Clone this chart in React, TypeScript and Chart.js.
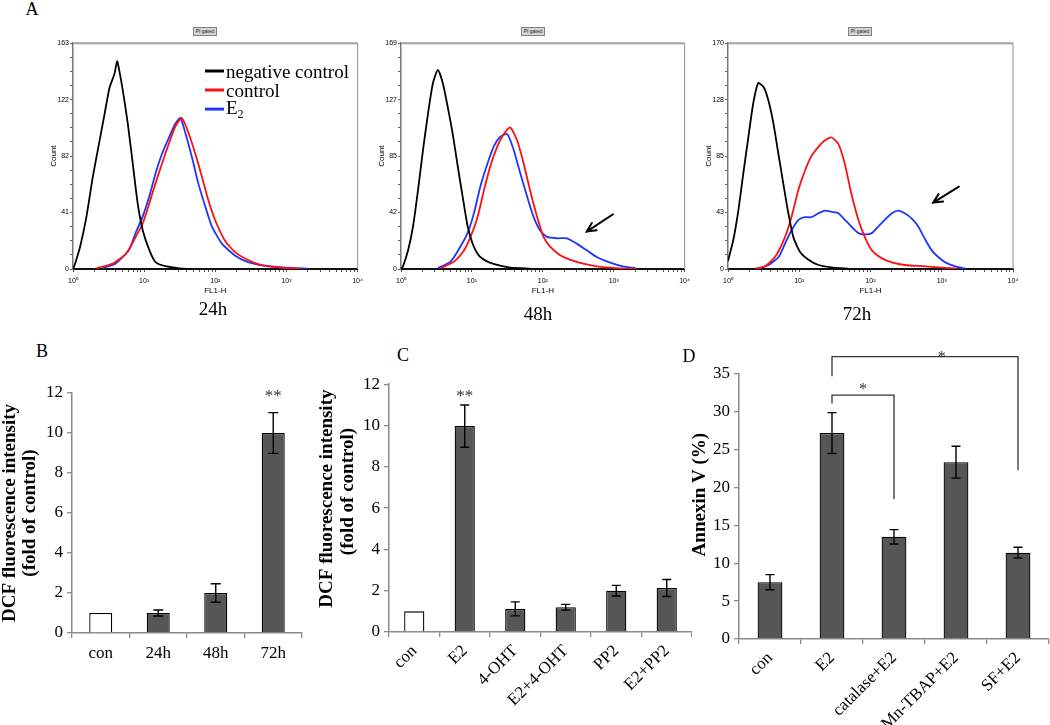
import React, { useEffect, useRef } from 'react';
import { Chart, registerables } from 'chart.js';

Chart.register(...registerables);

const SERIF = '"Liberation Serif", "Times New Roman", Times, serif';
const SANS = '"Liberation Sans", Arial, Helvetica, sans-serif';
const NB = '\u00A0';

// ---------------- Panel A: flow-cytometry histograms ----------------
const fl1TickLabels = ['10⁰', '10¹', '10²', '10³', '10⁴'];
const histTimes = ['24h', '48h', '72h'];
const countMax = [163, 169, 170];
const countTickLabels = [
  ['0', '41', '82', '122', '163'],
  ['0', '42', '85', '127', '169'],
  ['0', '43', '85', '128', '170'],
];
const legendNames = ['negative control', 'control', 'E'];

// FL1-H positions in log decades (0 = 10⁰ … 4 = 10⁴) and the counts
const neg24Dec = [0, 0.03, 0.1, 0.19, 0.28, 0.375, 0.444, 0.514, 0.583, 0.62, 0.644, 0.7, 0.77, 0.84, 0.91, 0.98, 1.07, 1.16, 1.3, 1.49, 1.7];
const neg24Count = [0, 4, 16, 38, 67, 93, 112, 131, 141, 150, 145, 129, 105, 76, 47, 28, 14, 5, 2, 0.5, 0];
const red24Dec = [0.33, 0.56, 0.745, 0.88, 0.98, 1.07, 1.16, 1.25, 1.35, 1.44, 1.53, 1.625, 1.72, 1.81, 1.9, 2.0, 2.13, 2.27, 2.46, 2.64, 2.92, 3.2];
const red24Count = [0.5, 4, 11, 23, 33, 47, 62, 76, 91, 103, 109, 98, 83, 67, 50, 35, 21, 12.5, 6.5, 3, 1, 0.3];
const blue24Dec = [0.42, 0.6, 0.79, 0.88, 0.98, 1.07, 1.16, 1.25, 1.35, 1.44, 1.51, 1.58, 1.67, 1.76, 1.86, 1.95, 2.09, 2.27, 2.46, 2.74, 3.0, 3.3];
const blue24Count = [0.7, 4, 14, 26, 38, 52, 69, 83, 95, 105, 109, 98, 81, 62, 45, 31, 18.5, 10, 5, 2, 1, 0.3];

const neg48Dec = [0, 0.028, 0.1, 0.17, 0.24, 0.31, 0.38, 0.45, 0.52, 0.59, 0.66, 0.73, 0.8, 0.87, 0.94, 1.01, 1.1, 1.22, 1.36, 1.54, 1.82];
const neg48Count = [0, 2, 14, 32, 59, 89, 116, 139, 149, 139, 121, 101, 77, 54, 32, 19, 10, 5.5, 3, 1, 0.2];
const red48Dec = [0.56, 0.75, 0.89, 0.98, 1.08, 1.17, 1.26, 1.36, 1.45, 1.54, 1.64, 1.73, 1.82, 1.92, 2.01, 2.1, 2.24, 2.38, 2.57, 2.76, 3.03, 3.31];
const red48Count = [0.7, 5.5, 14, 24, 39, 59, 77, 92, 101, 106, 96, 79, 59, 39, 24, 17, 10.5, 7, 4, 2, 0.7, 0.2];
const blue48Dec = [0.52, 0.7, 0.84, 0.94, 1.03, 1.12, 1.22, 1.31, 1.4, 1.5, 1.59, 1.68, 1.78, 1.87, 1.96, 2.06, 2.2, 2.34, 2.48, 2.62, 2.76, 2.94, 3.13, 3.31];
const blue48Count = [0.7, 5.5, 17, 27, 42, 62, 79, 92, 99, 101, 89, 72, 54, 39, 29, 24, 23, 23, 19, 14, 9, 5, 2, 0.7];

const neg72Dec = [0, 0.075, 0.145, 0.215, 0.285, 0.355, 0.425, 0.5, 0.566, 0.636, 0.706, 0.777, 0.847, 0.917, 1.01, 1.13, 1.27, 1.45, 1.69];
const neg72Count = [6, 22, 44, 72, 99, 125, 140, 137, 127, 110, 87, 64, 42, 24, 13, 7, 3, 1.3, 0.3];
const red72Dec = [0.38, 0.52, 0.66, 0.8, 0.89, 0.99, 1.08, 1.17, 1.27, 1.36, 1.455, 1.55, 1.64, 1.73, 1.83, 1.92, 2.02, 2.16, 2.3, 2.48, 2.77, 3.05, 3.23];
const red72Count = [0.3, 2, 9, 24, 39, 60, 74, 85, 92, 97, 99, 94, 79, 57, 37, 24, 14, 8, 5, 3, 2, 0.8, 0.3];
const blue72Dec = [0.43, 0.57, 0.71, 0.8, 0.89, 0.99, 1.08, 1.17, 1.27, 1.36, 1.455, 1.55, 1.64, 1.73, 1.83, 1.92, 2.02, 2.11, 2.2, 2.3, 2.39, 2.48, 2.58, 2.67, 2.77, 2.86, 2.95, 3.05, 3.19, 3.33];
const blue72Count = [0.3, 3, 9, 19, 29, 37, 39, 39, 42, 44, 43, 42, 37, 32, 27, 26, 27, 32, 37, 42, 44, 42, 38, 32, 22, 14, 9, 5, 2, 0.3];

// arrows pointing at the E2 high-fluorescence shoulder (decade, count); first panel has none
const arrowTipDec = [NaN, 2.62, 2.88];
const arrowTipCount = [NaN, 28, 50];
const arrowTailDec = [NaN, 2.99, 3.24];
const arrowTailCount = [NaN, 41, 62];

// ---------------- Panel B ----------------
const bCats = ['con', '24h', '48h', '72h'];
const bMeans = [1, 1.0, 2.0, 10.0];
const bErrs = [0, 0.15, 0.46, 1.02];
const bStars = ['', '', '', '**'];
const bStarLevel = 11.6;

// ---------------- Panel C ----------------
const cCats = ['con', 'E2', '4-OHT', 'E2+4-OHT', 'PP2', 'E2+PP2'];
const cMeans = [1, 9.97, 1.12, 1.2, 2.0, 2.13];
const cErrs = [0, 1.02, 0.34, 0.14, 0.26, 0.41];
const cStars = ['', '**', '', '', '', ''];
const cStarLevel = 11.2;

// ---------------- Panel D ----------------
const dCats = ['con', 'E2', 'catalase+E2', 'Mn-TBAP+E2', 'SF+E2'];
const dMeans = [7.5, 27.2, 13.5, 23.35, 11.4];
const dErrs = [1.0, 2.7, 0.95, 2.1, 0.72];
const dBracketFrom = ['E2', 'E2'];
const dBracketTo = ['catalase+E2', 'SF+E2'];
const dBracketTop = [32.2, 37.3];
const dBracketFromEnd = [31.1, 34.7];
const dBracketToEnd = [18.5, 22.3];
const dBracketStarLevel = [32.4, 36.6];
const dBracketStarAt = [0.5, 0.59];

type Box = { x: number; y: number; w: number; h: number };

function pts(dec: number[], cnt: number[]) {
  return dec.map((d, k) => ({ x: Math.pow(10, d), y: cnt[k] }));
}

const framePlugin = {
  id: 'frame',
  afterDraw(chart: any) {
    const { ctx, chartArea } = chart;
    const { left, right, top, bottom } = chartArea;
    ctx.save();
    ctx.strokeStyle = '#a0a0a0';
    ctx.lineWidth = 2;
    ctx.beginPath();
    ctx.moveTo(left, top);
    ctx.lineTo(right, top);
    ctx.stroke();
    ctx.lineWidth = 1.2;
    ctx.beginPath();
    ctx.moveTo(right, top);
    ctx.lineTo(right, bottom);
    ctx.stroke();
    ctx.restore();
  },
};

function arrowPlugin(i: number) {
  return {
    id: 'arrow' + i,
    afterDatasetsDraw(chart: any) {
      if (isNaN(arrowTipDec[i])) return;
      const x = chart.scales.x;
      const y = chart.scales.y;
      const tx = x.getPixelForValue(Math.pow(10, arrowTipDec[i]));
      const ty = y.getPixelForValue(arrowTipCount[i]);
      const sx = x.getPixelForValue(Math.pow(10, arrowTailDec[i]));
      const sy = y.getPixelForValue(arrowTailCount[i]);
      const ang = Math.atan2(ty - sy, tx - sx);
      const L = 10;
      const ctx = chart.ctx;
      ctx.save();
      ctx.strokeStyle = '#000';
      ctx.lineWidth = 2;
      ctx.lineCap = 'round';
      ctx.beginPath();
      ctx.moveTo(sx, sy);
      ctx.lineTo(tx, ty);
      ctx.moveTo(tx - L * Math.cos(ang - 0.45), ty - L * Math.sin(ang - 0.45));
      ctx.lineTo(tx, ty);
      ctx.lineTo(tx - L * Math.cos(ang + 0.45), ty - L * Math.sin(ang + 0.45));
      ctx.stroke();
      ctx.restore();
    },
  };
}

function histConfig(i: number, series: { x: number; y: number }[][], padTop: number, padRight: number) {
  const colors = ['#000000', '#ff1010', '#1f35ff'];
  const max = countMax[i];
  return {
    type: 'line',
    data: {
      datasets: series.map((s, k) => ({
        data: s,
        borderColor: colors[k],
        borderWidth: 1.8,
        pointRadius: 0,
        tension: 0.2,
        fill: false,
      })),
    },
    options: {
      animation: false,
      responsive: false,
      events: [],
      layout: { padding: { top: padTop, right: padRight, left: 0, bottom: 0 } },
      plugins: { legend: { display: false }, tooltip: { enabled: false } },
      scales: {
        x: {
          type: 'logarithmic',
          min: 1,
          max: 10000,
          afterBuildTicks: (s: any) => {
            const t: any[] = [];
            for (let d = 0; d < 4; d++) for (let m = 1; m < 10; m++) t.push({ value: m * Math.pow(10, d) });
            t.push({ value: 10000 });
            s.ticks = t;
          },
          afterFit: (s: any) => {
            s.height = 29;
          },
          ticks: {
            autoSkip: false,
            maxRotation: 0,
            minRotation: 0,
            padding: 5,
            color: '#000',
            font: { family: SANS, size: 7 },
            callback: (v: any) => {
              const e = Math.log10(Number(v));
              return Math.abs(e - Math.round(e)) < 1e-6 ? fl1TickLabels[Math.round(e)] : '';
            },
          },
          grid: { drawOnChartArea: false, drawTicks: true, tickLength: 3, color: '#555' },
          border: { color: '#111', width: 2 },
          title: { display: true, text: 'FL1-H', color: '#000', font: { family: SANS, size: 8, lineHeight: 1.2 }, padding: { top: 0, bottom: 2 } },
        },
        y: {
          min: 0,
          max,
          afterBuildTicks: (s: any) => {
            const t: any[] = [];
            for (let k = 0; k <= 16; k++) t.push({ value: (max * k) / 16 });
            s.ticks = t;
          },
          afterFit: (s: any) => {
            s.width = 33;
          },
          ticks: {
            autoSkip: false,
            padding: 1,
            color: '#000',
            font: { family: SANS, size: 7 },
            callback: (_v: any, idx: number) => (idx % 4 === 0 ? countTickLabels[i][idx / 4] : ''),
          },
          grid: { drawOnChartArea: false, drawTicks: true, tickLength: 3, color: '#666' },
          border: { color: '#777', width: 1.5 },
          title: { display: true, text: 'Count', color: '#000', font: { family: SANS, size: 8, lineHeight: 1.2 }, padding: { top: 9, bottom: 0 } },
        },
      },
    },
    plugins: [framePlugin, arrowPlugin(i)],
  };
}

function errorBars(errs: number[], cap: number) {
  return {
    id: 'errorBars',
    afterDatasetsDraw(chart: any) {
      const meta = chart.getDatasetMeta(0);
      const y = chart.scales.y;
      const vals = chart.data.datasets[0].data;
      const ctx = chart.ctx;
      ctx.save();
      ctx.strokeStyle = '#000';
      ctx.lineWidth = 1.4;
      meta.data.forEach((bar: any, k: number) => {
        const e = errs[k];
        if (!e) return;
        const yt = y.getPixelForValue(vals[k] + e);
        const yb = y.getPixelForValue(vals[k] - e);
        const x = bar.x;
        ctx.beginPath();
        ctx.moveTo(x, yt);
        ctx.lineTo(x, yb);
        ctx.moveTo(x - cap / 2, yt);
        ctx.lineTo(x + cap / 2, yt);
        ctx.moveTo(x - cap / 2, yb);
        ctx.lineTo(x + cap / 2, yb);
        ctx.stroke();
      });
      ctx.restore();
    },
  };
}

function starMarks(marks: string[], level: number) {
  return {
    id: 'stars',
    afterDatasetsDraw(chart: any) {
      const meta = chart.getDatasetMeta(0);
      const y = chart.scales.y;
      const ctx = chart.ctx;
      ctx.save();
      ctx.font = `17px ${SERIF}`;
      ctx.fillStyle = '#333';
      ctx.textAlign = 'center';
      ctx.textBaseline = 'alphabetic';
      marks.forEach((m, k) => {
        if (m) ctx.fillText(m, meta.data[k].x, y.getPixelForValue(level));
      });
      ctx.restore();
    },
  };
}

const bracketPlugin = {
  id: 'brackets',
  afterDatasetsDraw(chart: any) {
    const x = chart.scales.x;
    const y = chart.scales.y;
    const ctx = chart.ctx;
    ctx.save();
    ctx.strokeStyle = '#333';
    ctx.lineWidth = 1.3;
    ctx.fillStyle = '#333';
    ctx.font = `16px ${SERIF}`;
    ctx.textAlign = 'center';
    ctx.textBaseline = 'alphabetic';
    dBracketFrom.forEach((f, k) => {
      const x1 = x.getPixelForValue(dCats.indexOf(f));
      const x2 = x.getPixelForValue(dCats.indexOf(dBracketTo[k]));
      const yt = y.getPixelForValue(dBracketTop[k]);
      ctx.beginPath();
      ctx.moveTo(x1, y.getPixelForValue(dBracketFromEnd[k]));
      ctx.lineTo(x1, yt);
      ctx.lineTo(x2, yt);
      ctx.lineTo(x2, y.getPixelForValue(dBracketToEnd[k]));
      ctx.stroke();
      ctx.fillText('*', x1 + (x2 - x1) * dBracketStarAt[k], y.getPixelForValue(dBracketStarLevel[k]));
    });
    ctx.restore();
  },
};

type BarParams = {
  cats: string[];
  means: number[];
  errs: number[];
  whiteFirst: boolean;
  yMax: number;
  yStep: number;
  yTitle: string | string[];
  titleLH: number;
  titlePad: number;
  rot: number;
  xPad: number;
  yW: number;
  xH: number;
  padTop: number;
  padRight: number;
  cap: number;
  extra: any[];
};

function barConfig(p: BarParams) {
  return {
    type: 'bar',
    data: {
      labels: p.cats,
      datasets: [
        {
          data: p.means,
          backgroundColor: (c: any) => (p.whiteFirst && c.dataIndex === 0 ? '#ffffff' : '#565656'),
          borderColor: '#000',
          borderWidth: 1.3,
          categoryPercentage: 1,
          barPercentage: 0.4,
        },
      ],
    },
    options: {
      animation: false,
      responsive: false,
      events: [],
      layout: { padding: { top: p.padTop, right: p.padRight, left: 0, bottom: 0 } },
      plugins: { legend: { display: false }, tooltip: { enabled: false } },
      scales: {
        x: {
          grid: { offset: true, drawOnChartArea: false, tickLength: 5, color: '#8a8a8a', lineWidth: 1.3 },
          border: { color: '#8a8a8a', width: 1.5 },
          ticks: {
            autoSkip: false,
            maxRotation: p.rot,
            minRotation: p.rot,
            padding: p.xPad,
            color: '#000',
            font: { family: SERIF, size: 17 },
          },
          afterFit: (s: any) => {
            s.height = p.xH;
          },
        },
        y: {
          min: 0,
          max: p.yMax,
          ticks: { stepSize: p.yStep, padding: 4, color: '#000', font: { family: SERIF, size: 17 } },
          grid: { drawOnChartArea: false, tickLength: 5, color: '#8a8a8a', lineWidth: 1.3 },
          border: { color: '#8a8a8a', width: 1.5 },
          title: {
            display: true,
            text: p.yTitle,
            color: '#000',
            font: { family: SERIF, size: 19, weight: 'bold', lineHeight: p.titleLH },
            padding: { top: p.titlePad, bottom: 0 },
          },
          afterFit: (s: any) => {
            s.width = p.yW;
          },
        },
      },
    },
    plugins: [errorBars(p.errs, p.cap), ...p.extra],
  };
}

function ChartBox({ box, build }: { box: Box; build: () => any }) {
  const ref = useRef<HTMLCanvasElement>(null);
  useEffect(() => {
    const chart = new Chart(ref.current as HTMLCanvasElement, build());
    return () => chart.destroy();
  }, []);
  return (
    <canvas
      ref={ref}
      width={box.w}
      height={box.h}
      style={{ position: 'absolute', left: box.x, top: box.y, width: box.w, height: box.h }}
    />
  );
}

function Txt(props: { x: number; y: number; size: number; bold?: boolean; family?: string; children: any }) {
  return (
    <div
      style={{
        position: 'absolute',
        left: props.x,
        top: props.y,
        transform: 'translate(-50%, -50%)',
        fontFamily: props.family || SERIF,
        fontSize: props.size,
        fontWeight: props.bold ? 'bold' : 'normal',
        lineHeight: 1,
        whiteSpace: 'nowrap',
        color: '#000',
      }}
    >
      {props.children}
    </div>
  );
}

function GateTag({ cx }: { cx: number }) {
  return (
    <div
      style={{
        position: 'absolute',
        left: cx - 12,
        top: 27,
        width: 24,
        height: 9,
        boxSizing: 'border-box',
        background: '#d6d6d6',
        border: '1px solid #808080',
        fontFamily: SANS,
        fontSize: 5,
        lineHeight: '7px',
        textAlign: 'center',
        color: '#222',
        whiteSpace: 'nowrap',
        overflow: 'hidden',
      }}
    >
      PI gated
    </div>
  );
}

export default function App() {
  const histBoxes: Box[] = [
    { x: 40, y: 38, w: 328, h: 260 },
    { x: 368, y: 38, w: 327, h: 260 },
    { x: 695, y: 38, w: 330, h: 260 },
  ];
  const histPadRight = [8, 8, 12];
  const histSeries = [
    [pts(neg24Dec, neg24Count), pts(red24Dec, red24Count), pts(blue24Dec, blue24Count)],
    [pts(neg48Dec, neg48Count), pts(red48Dec, red48Count), pts(blue48Dec, blue48Count)],
    [pts(neg72Dec, neg72Count), pts(red72Dec, red72Count), pts(blue72Dec, blue72Count)],
  ];
  const timePos = [
    [213, 308],
    [538, 313],
    [857, 313],
  ];
  const legendColors = ['#000000', '#ff1010', '#1f35ff'];

  const boxB: Box = { x: 0, y: 370, w: 316, h: 330 };
  const boxC: Box = { x: 316, y: 370, w: 376, h: 355 };
  const boxD: Box = { x: 684, y: 340, w: 366, h: 385 };

  return (
    <div style={{ position: 'absolute', left: 0, top: 0, width: 1050, height: 725, background: '#fff', overflow: 'hidden' }}>
      {histBoxes.map((b, i) => (
        <ChartBox key={'h' + i} box={b} build={() => histConfig(i, histSeries[i], 5, histPadRight[i])} />
      ))}
      <ChartBox
        box={boxB}
        build={() =>
          barConfig({
            cats: bCats, means: bMeans, errs: bErrs, whiteFirst: true, yMax: 12, yStep: 2,
            yTitle: ['DCF fluorescence intensity', '(fold of control)'], titleLH: 20 / 19, titlePad: 0,
            rot: 0, xPad: 5, yW: 72, xH: 67, padTop: 23, padRight: 14, cap: 10,
            extra: [starMarks(bStars, bStarLevel)],
          })
        }
      />
      <ChartBox
        box={boxC}
        build={() =>
          barConfig({
            cats: cCats, means: cMeans, errs: cErrs, whiteFirst: true, yMax: 12, yStep: 2,
            yTitle: [NB.repeat(4) + 'DCF fluorescence intensity', NB.repeat(7) + '(fold of control)'], titleLH: 21 / 19, titlePad: 1,
            rot: 45, xPad: 4, yW: 73, xH: 93, padTop: 13, padRight: 0, cap: 9,
            extra: [starMarks(cStars, cStarLevel)],
          })
        }
      />
      <ChartBox
        box={boxD}
        build={() =>
          barConfig({
            cats: dCats, means: dMeans, errs: dErrs, whiteFirst: false, yMax: 35, yStep: 5,
            yTitle: NB.repeat(5) + 'Annexin V (%)', titleLH: 20 / 19, titlePad: 6,
            rot: 45, xPad: 4, yW: 55, xH: 86, padTop: 34, padRight: 1, cap: 9,
            extra: [bracketPlugin],
          })
        }
      />

      {/* panel letters */}
      <Txt x={32} y={9} size={18}>A</Txt>
      <Txt x={42} y={351} size={18}>B</Txt>
      <Txt x={403} y={355} size={18}>C</Txt>
      <Txt x={689} y={356} size={18}>D</Txt>

      {/* time labels under the histograms */}
      {histTimes.map((t, i) => (
        <Txt key={t} x={timePos[i][0]} y={timePos[i][1]} size={19}>
          {t}
        </Txt>
      ))}

      {/* gate tags */}
      <GateTag cx={205} />
      <GateTag cx={533} />
      <GateTag cx={860} />

      {/* legend of the first histogram */}
      {legendNames.map((n, k) => (
        <div
          key={n}
          style={{ position: 'absolute', left: 205, top: 71 + k * 19, transform: 'translateY(-50%)', display: 'flex', alignItems: 'center', whiteSpace: 'nowrap' }}
        >
          <div style={{ width: 19, height: 3, background: legendColors[k], marginRight: 2 }} />
          <span style={{ fontFamily: SERIF, fontSize: 19, lineHeight: 1, color: '#000' }}>
            {n}
            {k === 2 ? <sub style={{ fontSize: 12 }}>2</sub> : null}
          </span>
        </div>
      ))}
    </div>
  );
}
